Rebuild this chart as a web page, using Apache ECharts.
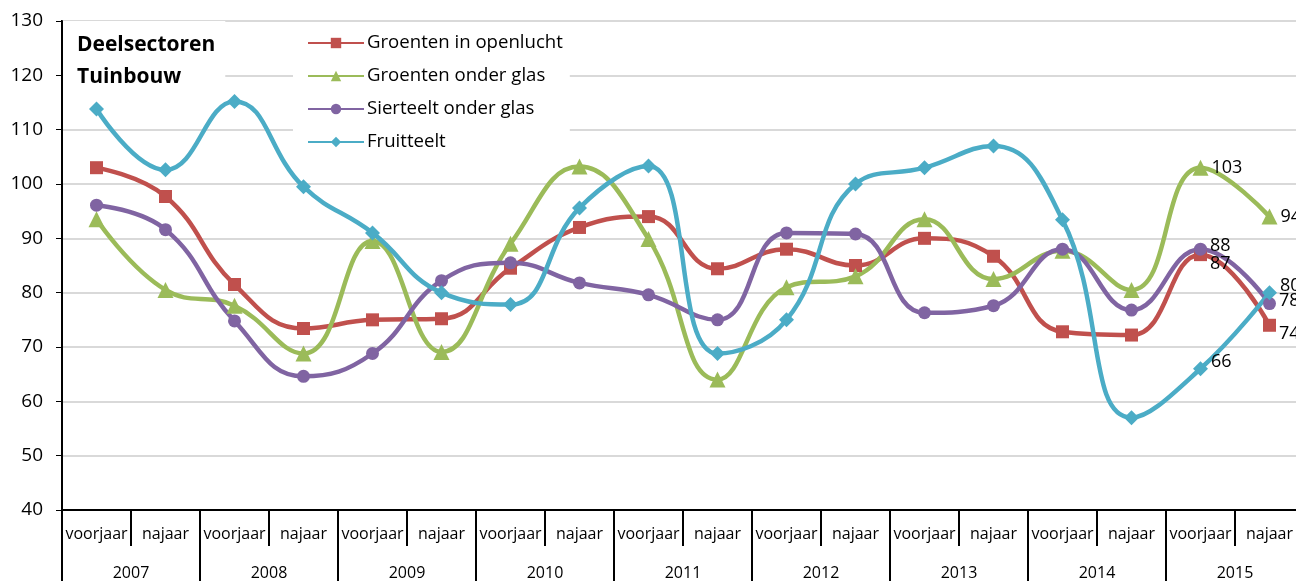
<!DOCTYPE html>
<html>
<head>
<meta charset="utf-8">
<script src="https://cdn.jsdelivr.net/npm/echarts@6/dist/echarts.min.js"></script>
<style>
  html, body { margin: 0; padding: 0; overflow: hidden; background: #fff; }
  #chart { width: 1330px; height: 581px; }
</style>
</head>
<body>
<div id="chart"></div>
<script>
// categorieën (halfjaar) en jaren
const seasons = ['voorjaar', 'najaar', 'voorjaar', 'najaar', 'voorjaar', 'najaar', 'voorjaar', 'najaar',
  'voorjaar', 'najaar', 'voorjaar', 'najaar', 'voorjaar', 'najaar', 'voorjaar', 'najaar', 'voorjaar', 'najaar'];
const years = ['2007', '2008', '2009', '2010', '2011', '2012', '2013', '2014', '2015'];

// waarden per deelsector
const openlucht = [103, 97.7, 81.5, 73.4, 75, 75.2, 84.5, 92, 94, 84.4, 88, 85, 90, 86.7, 72.8, 72.2, 87, 74];
const onderGlas = [93.5, 80.5, 77.6, 68.8, 89.5, 69.1, 89, 103.2, 89.9, 64, 81, 83, 93.5, 82.5, 87.7, 80.5, 103, 94];
const sierteelt = [96.1, 91.6, 74.8, 64.6, 68.8, 82.2, 85.5, 81.8, 79.6, 75, 91, 90.8, 76.3, 77.6, 88, 76.8, 88, 78];
const fruitteelt = [113.8, 102.6, 115.2, 99.5, 91, 80, 77.8, 95.6, 103.3, 68.8, 75, 100, 103, 107, 93.4, 57, 66, 80];

const FONT = 'Open Sans';

// alleen de laatste twee punten krijgen een label
const withLabels = (arr, offset) => arr.map((v, i) => {
  if (i < arr.length - 2) return v;
  return { value: v, label: { show: true, offset: offset || [0, 0] } };
});

const makeSeries = (name, data, color, symbol, size, offset) => ({
  name: name,
  type: 'line',
  data: withLabels(data, offset),
  smooth: 0.45,
  symbol: symbol,
  symbolSize: size,
  lineStyle: { width: 4.5, color: color },
  itemStyle: { color: color },
  label: {
    show: false,
    position: 'right',
    distance: 3,
    color: '#000',
    fontSize: 18,
    fontFamily: FONT,
    formatter: p => Math.round(p.value)
  },
  z: 3
});

const chart = echarts.init(document.getElementById('chart'));

const option = {
  animation: false,
  textStyle: { fontFamily: FONT },
  title: {
    text: 'Deelsectoren\nTuinbouw',
    left: 63,
    top: 21,
    backgroundColor: '#fff',
    padding: [8, 10, 4, 14],
    textStyle: { fontSize: 21, fontWeight: 'bold', color: '#000', fontFamily: FONT, lineHeight: 32 },
    z: 1
  },
  legend: {
    orient: 'vertical',
    left: 293,
    top: 24,
    backgroundColor: '#fff',
    padding: [9, 7, 8, 14],
    itemWidth: 56,
    itemHeight: 13,
    itemGap: 13,
    textStyle: { fontSize: 18.6, lineHeight: 20, color: '#000', fontFamily: FONT, padding: [0, 0, 0, -2] },
    data: ['Groenten in openlucht', 'Groenten onder glas', 'Sierteelt onder glas', 'Fruitteelt'],
    z: 1
  },
  grid: {
    left: 62,
    right: 26,
    top: 21,
    bottom: 69,
    show: true,
    borderColor: '#000',
    borderWidth: 2
  },
  xAxis: [
    {
      type: 'category',
      data: seasons,
      boundaryGap: true,
      axisLine: { lineStyle: { color: '#000', width: 2 } },
      axisTick: { show: true, interval: 0, length: 36, lineStyle: { color: '#000', width: 2 } },
      axisLabel: { interval: 0, margin: 16, color: '#000', fontSize: 16, fontFamily: FONT }
    },
    {
      type: 'category',
      data: years,
      position: 'bottom',
      boundaryGap: true,
      axisLine: { show: false },
      axisTick: { show: true, interval: 0, length: 72, lineStyle: { color: '#000', width: 2 } },
      axisLabel: { interval: 0, margin: 55, color: '#000', fontSize: 16, fontFamily: FONT }
    }
  ],
  yAxis: {
    type: 'value',
    min: 40,
    max: 130,
    interval: 10,
    axisLine: { show: true, lineStyle: { color: '#000', width: 2 } },
    axisTick: { show: true, length: 6, lineStyle: { color: '#000', width: 1 } },
    axisLabel: { margin: 19, color: '#000', fontSize: 19, fontFamily: FONT },
    splitLine: { lineStyle: { color: '#d9d9d9', width: 2 } }
  },
  series: [
    makeSeries('Groenten in openlucht', openlucht, '#C0504D', 'rect', 13, [0, 9]),
    makeSeries('Groenten onder glas', onderGlas, '#9BBB59', 'triangle', 16),
    makeSeries('Sierteelt onder glas', sierteelt, '#8064A2', 'circle', 13, [0, -3]),
    makeSeries('Fruitteelt', fruitteelt, '#4BACC6', 'diamond', 15, [0, -7])
  ]
};

chart.setOption(option);
</script>
</body>
</html>
